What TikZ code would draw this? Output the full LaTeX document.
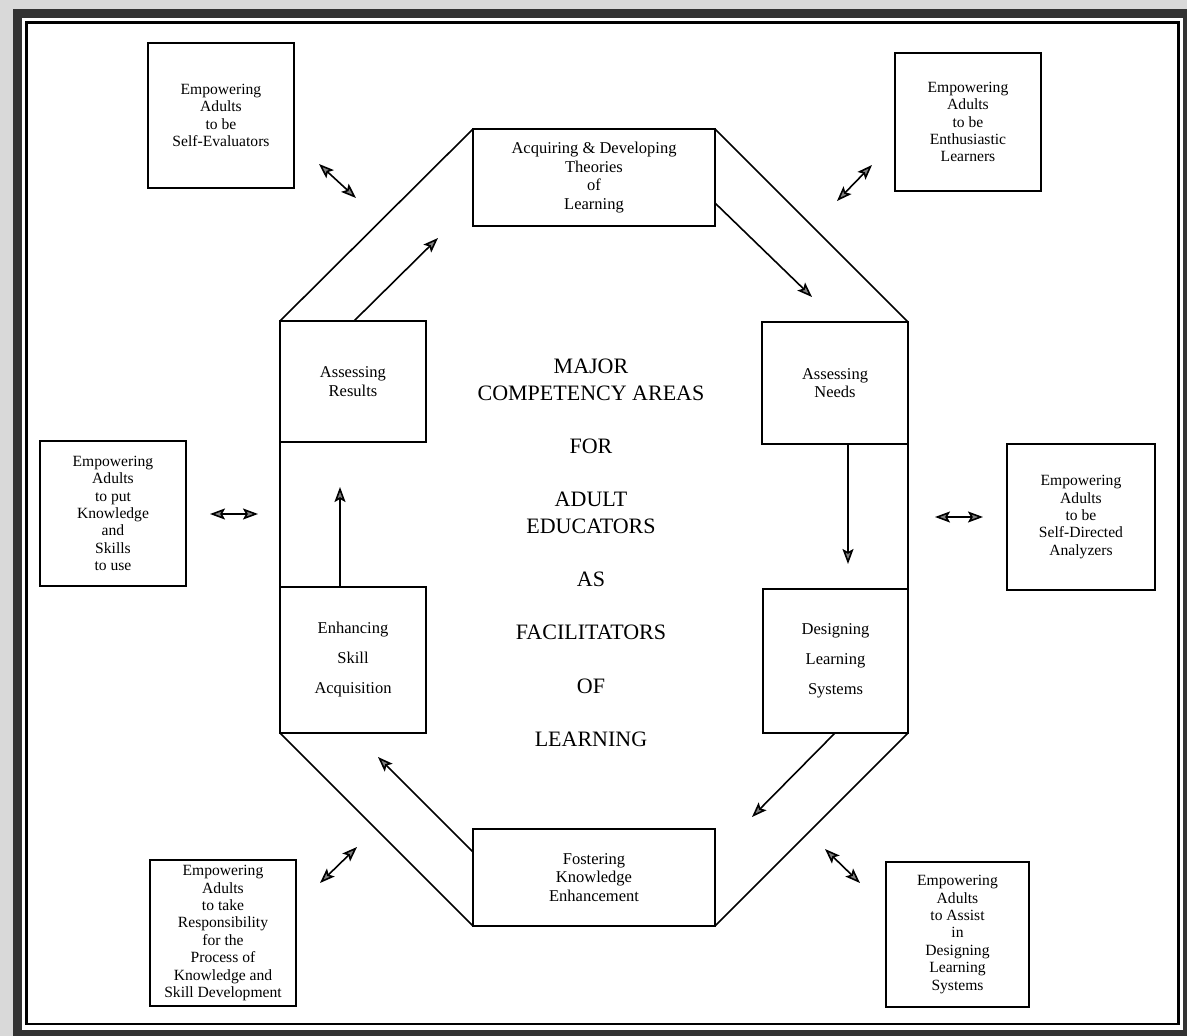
\documentclass[tikz,border=0pt]{standalone}
\usepackage{fontspec}
\setmainfont{Liberation Serif}
\usetikzlibrary{arrows.meta}

\begin{document}
\begin{tikzpicture}[x=1pt,y=-1pt]
		\tikzstyle{area}=[draw,line width=1.6pt,outer sep=0pt,inner sep=0pt,align=center,font=\fontsize{16.5}{18.5}\selectfont]
		\tikzstyle{goal}=[area,font=\fontsize{15.6}{17.4}\selectfont]
		\tikzstyle{flow}=[line width=1.6pt,-{Stealth[length=15pt,width=11pt,inset=3pt,fill=gray]}]
		\tikzstyle{link}=[line width=1.6pt,{Stealth[length=15pt,width=11pt,inset=3pt,fill=gray]}-{Stealth[length=15pt,width=11pt,inset=3pt,fill=gray]}]

		\useasboundingbox (0,0) rectangle (1187,1036);
		\fill[gray!30] (0,0) rectangle (1187,1036);
		\draw[black!80,line width=9pt,fill=white] (17,13) rectangle (1187.5,1034.5);
		\draw[line width=2.5pt] (26.5,22.5) rectangle (1178.5,1024);

		\node[area,minimum width=242pt,minimum height=97pt] (acq) at (594,177.5) {Acquiring \& Developing\\Theories\\of\\Learning};
		\node[area,minimum width=146pt,minimum height=122pt] (needs) at (835,383) {Assessing\\Needs};
		\node[area,minimum width=145pt,minimum height=144pt] (des) at (835.5,661) {Designing\\[11.5pt]Learning\\[11.5pt]Systems};
		\node[area,minimum width=242pt,minimum height=97pt] (fost) at (594,877.5) {Fostering\\Knowledge\\Enhancement};
		\node[area,minimum width=146pt,minimum height=146pt] (enh) at (353,660) {Enhancing\\[11.5pt]Skill\\[11.5pt]Acquisition};
		\node[area,minimum width=146pt,minimum height=121pt] (res) at (353,381.5) {Assessing\\Results};

		\node[goal,minimum width=146pt,minimum height=145pt] (sev) at (221,115.5) {Empowering\\Adults\\to be\\Self-Evaluators};
		\node[goal,minimum width=146pt,minimum height=138pt] (ent) at (968,122) {Empowering\\Adults\\to be\\Enthusiastic\\Learners};
		\node[goal,minimum width=146pt,minimum height=145pt] (kno) at (113,513.5) {Empowering\\Adults\\to put\\Knowledge\\and\\Skills\\to use};
		\node[goal,minimum width=148pt,minimum height=146pt] (sda) at (1081,517) {Empowering\\Adults\\to be\\Self-Directed\\Analyzers};
		\node[goal,minimum width=146pt,minimum height=146pt] (resp) at (223,933) {Empowering\\Adults\\to take\\Responsibility\\for the\\Process of\\Knowledge and\\Skill Development};
		\node[goal,minimum width=143pt,minimum height=145pt] (asst) at (957.5,934.5) {Empowering\\Adults\\to Assist\\in\\Designing\\Learning\\Systems};

		\node[font=\fontsize{22}{26.6}\selectfont,align=center] (title) at (591,553) {MAJOR\\COMPETENCY AREAS\\[26.6pt]FOR\\[26.6pt]ADULT\\EDUCATORS\\[26.6pt]AS\\[26.6pt]FACILITATORS\\[26.6pt]OF\\[26.6pt]LEARNING};

		\draw[line width=1.6pt] (acq.north west) -- (acq.north east) -- (needs.north east) -- (des.south east)
			-- (fost.south east) -- (fost.south west) -- (enh.south west) -- (res.north west) -- cycle;

		\coordinate (f1a) at (715,203);
		\coordinate (f1b) at (812,297);
		\coordinate (f2a) at (848,444);
		\coordinate (f2b) at (848,564);
		\coordinate (f3a) at (835,733);
		\coordinate (f3b) at (752,817);
		\coordinate (f4a) at (473,852);
		\coordinate (f4b) at (378,757);
		\coordinate (f5a) at (340,587);
		\coordinate (f5b) at (340,487);
		\coordinate (f6a) at (354,321);
		\coordinate (f6b) at (438,238);

		\draw[flow] (f1a) -- (f1b);
		\draw[flow] (f2a) -- (f2b);
		\draw[flow] (f3a) -- (f3b);
		\draw[flow] (f4a) -- (f4b);
		\draw[flow] (f5a) -- (f5b);
		\draw[flow] (f6a) -- (f6b);

		\coordinate (l1a) at (319,164);
		\coordinate (l1b) at (356,198);
		\coordinate (l2a) at (837,201);
		\coordinate (l2b) at (872,165);
		\coordinate (l3a) at (210,514);
		\coordinate (l3b) at (258,514);
		\coordinate (l4a) at (935,517);
		\coordinate (l4b) at (983,517);
		\coordinate (l5a) at (320,883);
		\coordinate (l5b) at (357,847);
		\coordinate (l6a) at (825,849);
		\coordinate (l6b) at (860,883);

		\draw[link] (l1a) -- (l1b);
		\draw[link] (l2a) -- (l2b);
		\draw[link] (l3a) -- (l3b);
		\draw[link] (l4a) -- (l4b);
		\draw[link] (l5a) -- (l5b);
		\draw[link] (l6a) -- (l6b);
	\end{tikzpicture}
\end{document}
